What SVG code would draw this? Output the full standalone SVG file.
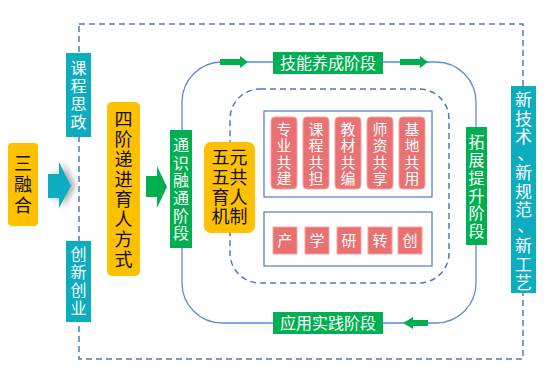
<svg xmlns="http://www.w3.org/2000/svg" width="550" height="376" viewBox="0 0 550 376">
<defs>
<style>
text{font-family:"Noto Sans CJK SC","Noto Sans",sans-serif;text-anchor:middle}
.v{writing-mode:vertical-rl}
.y{fill:#FFC000}
.g{fill:#00B050}
.t{fill:#0BADBF}
.p{fill:#E97172;stroke:#F2A3A3;stroke-width:1}
.wt{fill:#fff;font-size:16px}
.bt{fill:#111;font-size:18px}
.pt{fill:#fff;font-size:15px}
.dash{fill:none;stroke:#4A7EBB;stroke-width:1.5;stroke-dasharray:6 4}
.loop{fill:none;stroke:#5B8ED6;stroke-width:1.3}
.box{fill:#fff;stroke:#5B83CC;stroke-width:1.3}
</style>
<filter id="sh" x="-30%" y="-30%" width="180%" height="160%">
<feGaussianBlur in="SourceAlpha" stdDeviation="3"/>
<feOffset dx="4" dy="0"/>
<feComponentTransfer><feFuncA type="linear" slope="0.35"/></feComponentTransfer>
<feMerge><feMergeNode/><feMergeNode in="SourceGraphic"/></feMerge>
</filter>
</defs>
<rect width="550" height="376" fill="#fff"/>
<g id="connectors">
<rect class="dash" x="79" y="24" width="444" height="335"/>
<rect class="loop" x="182" y="62" width="294" height="261" rx="40"/>
<rect class="dash" x="230" y="89" width="219" height="194" rx="30"/>
<polygon class="t" filter="url(#sh)" points="48,174 59,174 59,162 71,186 59,208 59,198 48,198"/>
<polygon class="g" points="146,176 157,176 157,166 167,187 157,208 157,197 146,197"/>
<polygon class="g" points="220,59 240,59 240,56 248,62 240,68 240,65 220,65"/>
<polygon class="g" points="400,59 420,59 420,56 428,62 420,68 420,65 400,65"/>
<polygon class="g" points="403,323 413,317 413,320 428,320 428,326 413,326 413,329"/>
</g>
<g id="sanronghe">
<rect class="y" x="8" y="143" width="30" height="83" rx="4"/>
<text class="bt v" x="23" y="186" letter-spacing="3">三融合</text>
</g>
<g id="kechengsizheng">
<rect class="t" x="66" y="53" width="25" height="84"/>
<text class="wt v" x="78.5" y="96" letter-spacing="2">课程思政</text>
</g>
<g id="chuangxinchuangye">
<rect class="t" x="66" y="241" width="25" height="81"/>
<text class="wt v" x="78.5" y="282" letter-spacing="2">创新创业</text>
</g>
<g id="sijie">
<rect class="y" x="107" y="102" width="33" height="174" rx="5"/>
<text class="bt v" x="123.5" y="190" letter-spacing="2">四阶递进育人方式</text>
</g>
<g id="tongshi">
<rect class="g" x="170" y="130" width="22" height="118"/>
<text class="wt v" x="181" y="190" letter-spacing="1.6">通识融通阶段</text>
</g>
<g id="wuyuan">
<rect class="y" x="204" y="142" width="51" height="91" rx="7"/>
<text class="bt"><tspan x="229.5" y="164">五元</tspan><tspan x="229.5" y="184">五共</tspan><tspan x="229.5" y="204">育人</tspan><tspan x="229.5" y="223">机制</tspan></text>
</g>
<g id="jineng">
<rect class="g" x="273" y="52" width="110" height="22"/>
<text class="wt" x="328" y="69">技能养成阶段</text>
</g>
<g id="tuozhan">
<rect class="g" x="466" y="127" width="21" height="118"/>
<text class="wt v" x="476.5" y="187.5" letter-spacing="1.8">拓展提升阶段</text>
</g>
<g id="yingyong">
<rect class="g" x="273" y="312" width="110" height="22"/>
<text class="wt" x="328" y="329">应用实践阶段</text>
</g>
<g id="xinjishu">
<rect class="t" x="511" y="86" width="25" height="207"/>
<text class="wt v" style="font-size:17px" x="523.5" y="191.5" letter-spacing="1.2">新技术<tspan dx="-8" dy="10">、</tspan><tspan dx="8" dy="-10">新规范</tspan><tspan dx="-8" dy="10">、</tspan><tspan dx="8" dy="-10">新工艺</tspan></text>
</g>
<g id="wugong">
<rect class="box" x="264" y="111" width="168" height="86"/>
<rect class="p" x="271" y="117" width="26" height="72" rx="4"/>
<rect class="p" x="303" y="117" width="26" height="72" rx="4"/>
<rect class="p" x="335" y="117" width="26" height="72" rx="4"/>
<rect class="p" x="367" y="117" width="26" height="72" rx="4"/>
<rect class="p" x="399" y="117" width="26" height="72" rx="4"/>
<text class="pt v" x="284" y="154.5" letter-spacing="1.5">专业共建</text>
<text class="pt v" x="316" y="154.5" letter-spacing="1.5">课程共担</text>
<text class="pt v" x="348" y="154.5" letter-spacing="1.5">教材共编</text>
<text class="pt v" x="380" y="154.5" letter-spacing="1.5">师资共享</text>
<text class="pt v" x="412" y="154.5" letter-spacing="1.5">基地共用</text>
</g>
<g id="chanxue">
<rect class="box" x="264" y="212" width="168" height="54"/>
<rect class="p" x="273" y="227" width="24" height="27"/>
<rect class="p" x="305" y="227" width="24" height="27"/>
<rect class="p" x="337" y="227" width="24" height="27"/>
<rect class="p" x="368" y="227" width="24" height="27"/>
<rect class="p" x="398" y="227" width="24" height="27"/>
<text class="pt" x="285" y="246">产</text>
<text class="pt" x="317" y="246">学</text>
<text class="pt" x="349" y="246">研</text>
<text class="pt" x="380" y="246">转</text>
<text class="pt" x="410" y="246">创</text>
</g>
</svg>
